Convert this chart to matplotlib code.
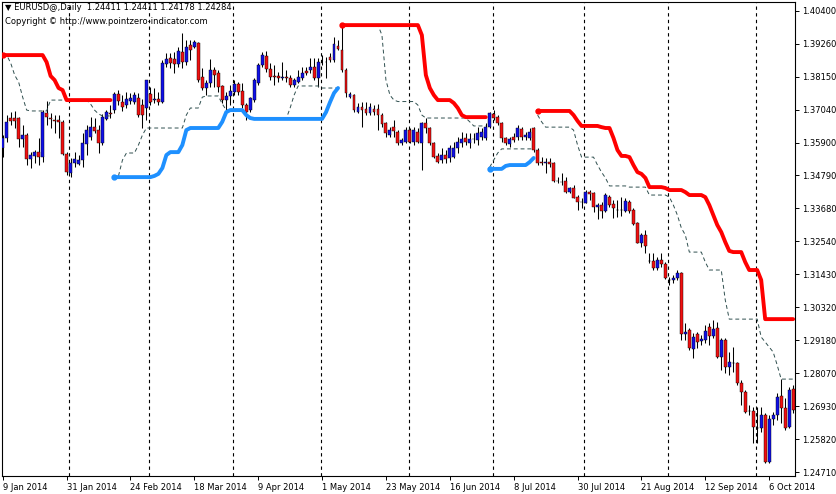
import matplotlib
matplotlib.use('Agg')
import matplotlib.pyplot as plt
import numpy as np
import pandas as pd

nan = float('nan')

# daily EURUSD candles, 9 Jan 2014 onwards (one value per trading day)
opens = [
    1.3572, 1.3606, 1.3674, 1.3674, 1.3674, 1.3603, 1.3617, 1.3535, 1.3547, 1.3558,
    1.3543, 1.3691, 1.3674, 1.3667, 1.3668, 1.3660, 1.3552, 1.3487, 1.3521, 1.3518,
    1.3532, 1.3587, 1.3611, 1.3643, 1.3634, 1.3589, 1.3671, 1.3692, 1.3702, 1.3756,
    1.3731, 1.3719, 1.3733, 1.3731, 1.3744, 1.3719, 1.3708, 1.3757, 1.3736, 1.3739,
    1.3731, 1.3859, 1.3879, 1.3876, 1.3859, 1.3901, 1.3866, 1.3923, 1.3918, 1.3929,
    1.3816, 1.3776, 1.3794, 1.3838, 1.3828, 1.3784, 1.3736, 1.3750, 1.3764, 1.3791,
    1.3767, 1.3719, 1.3702, 1.3736, 1.3793, 1.3855, 1.3886, 1.3842, 1.3818, 1.3818,
    1.3810, 1.3813, 1.3812, 1.3787, 1.3799, 1.3812, 1.3835, 1.3838, 1.3850, 1.3810,
    1.3867, 1.3866, 1.3884, 1.3872, 1.3921, 1.3906, 1.3838, 1.3748, 1.3753, 1.3696,
    1.3714, 1.3706, 1.3691, 1.3705, 1.3705, 1.3685, 1.3657, 1.3617, 1.3643, 1.3628,
    1.3589, 1.3594, 1.3634, 1.3594, 1.3628, 1.3589, 1.3657, 1.3640, 1.3589, 1.3546,
    1.3532, 1.3549, 1.3539, 1.3543, 1.3572, 1.3589, 1.3606, 1.3589, 1.3604, 1.3600,
    1.3611, 1.3606, 1.3646, 1.3689, 1.3680, 1.3657, 1.3606, 1.3587, 1.3611, 1.3611,
    1.3637, 1.3611, 1.3606, 1.3640, 1.3566, 1.3524, 1.3523, 1.3526, 1.3521, 1.3462,
    1.3459, 1.3461, 1.3424, 1.3436, 1.3407, 1.3391, 1.3387, 1.3424, 1.3419, 1.3371,
    1.3379, 1.3360, 1.3405, 1.3383, 1.3362, 1.3362, 1.3360, 1.3390, 1.3362, 1.3317,
    1.3251, 1.3277, 1.3190, 1.3190, 1.3164, 1.3192, 1.3178, 1.3125, 1.3124, 1.3131,
    1.3149, 1.2940, 1.2954, 1.2888, 1.2940, 1.2917, 1.2920, 1.2965, 1.2935, 1.2960,
    1.2861, 1.2920, 1.2829, 1.2843, 1.2843, 1.2775, 1.2744, 1.2679, 1.2679, 1.2621,
    1.2620, 1.2665, 1.2506, 1.2650, 1.2665, 1.2730, 1.2688, 1.2625, 1.2752,
]
highs = [
    1.3617, 1.3685, 1.3694, 1.3699, 1.3680, 1.3651, 1.3624, 1.3560, 1.3566, 1.3607,
    1.3702, 1.3733, 1.3691, 1.3685, 1.3685, 1.3668, 1.3560, 1.3538, 1.3560, 1.3549,
    1.3623, 1.3651, 1.3680, 1.3676, 1.3651, 1.3688, 1.3702, 1.3719, 1.3764, 1.3770,
    1.3753, 1.3764, 1.3760, 1.3764, 1.3759, 1.3740, 1.3804, 1.3782, 1.3777, 1.3764,
    1.3872, 1.3895, 1.3895, 1.3901, 1.3918, 1.3965, 1.3940, 1.3940, 1.3940, 1.3935,
    1.3844, 1.3804, 1.3875, 1.3850, 1.3838, 1.3787, 1.3764, 1.3787, 1.3804, 1.3799,
    1.3793, 1.3725, 1.3748, 1.3810, 1.3861, 1.3901, 1.3903, 1.3862, 1.3855, 1.3833,
    1.3866, 1.3838, 1.3821, 1.3810, 1.3838, 1.3850, 1.3850, 1.3878, 1.3878, 1.3878,
    1.3889, 1.3884, 1.3895, 1.3952, 1.3940, 1.3991, 1.3844, 1.3764, 1.3756, 1.3725,
    1.3731, 1.3728, 1.3725, 1.3719, 1.3722, 1.3691, 1.3662, 1.3646, 1.3668, 1.3634,
    1.3606, 1.3646, 1.3640, 1.3646, 1.3640, 1.3662, 1.3674, 1.3646, 1.3594, 1.3555,
    1.3572, 1.3566, 1.3583, 1.3594, 1.3610, 1.3628, 1.3623, 1.3623, 1.3623, 1.3643,
    1.3640, 1.3657, 1.3696, 1.3702, 1.3685, 1.3662, 1.3611, 1.3611, 1.3623, 1.3651,
    1.3646, 1.3628, 1.3640, 1.3646, 1.3572, 1.3543, 1.3538, 1.3538, 1.3526, 1.3475,
    1.3487, 1.3475, 1.3441, 1.3447, 1.3413, 1.3402, 1.3430, 1.3430, 1.3423, 1.3385,
    1.3390, 1.3419, 1.3413, 1.3396, 1.3396, 1.3407, 1.3402, 1.3396, 1.3368, 1.3321,
    1.3283, 1.3294, 1.3215, 1.3215, 1.3203, 1.3215, 1.3185, 1.3135, 1.3141, 1.3158,
    1.3152, 1.2977, 1.2960, 1.2943, 1.2948, 1.2937, 1.2971, 1.2977, 1.2988, 1.2981,
    1.2926, 1.2926, 1.2880, 1.2897, 1.2846, 1.2784, 1.2750, 1.2699, 1.2693, 1.2693,
    1.2693, 1.2671, 1.2665, 1.2676, 1.2739, 1.2786, 1.2723, 1.2761, 1.2767,
]
lows = [
    1.3543, 1.3594, 1.3651, 1.3641, 1.3577, 1.3577, 1.3515, 1.3504, 1.3522, 1.3515,
    1.3526, 1.3651, 1.3640, 1.3623, 1.3606, 1.3549, 1.3481, 1.3475, 1.3509, 1.3515,
    1.3509, 1.3549, 1.3600, 1.3623, 1.3557, 1.3583, 1.3668, 1.3674, 1.3691, 1.3719,
    1.3699, 1.3710, 1.3723, 1.3723, 1.3680, 1.3641, 1.3668, 1.3719, 1.3725, 1.3719,
    1.3725, 1.3850, 1.3844, 1.3827, 1.3850, 1.3844, 1.3855, 1.3874, 1.3912, 1.3799,
    1.3770, 1.3753, 1.3782, 1.3782, 1.3764, 1.3725, 1.3702, 1.3719, 1.3753, 1.3753,
    1.3708, 1.3668, 1.3696, 1.3731, 1.3787, 1.3850, 1.3832, 1.3804, 1.3787, 1.3799,
    1.3804, 1.3797, 1.3782, 1.3782, 1.3793, 1.3804, 1.3821, 1.3827, 1.3804, 1.3782,
    1.3855, 1.3810, 1.3866, 1.3866, 1.3906, 1.3833, 1.3748, 1.3742, 1.3696, 1.3691,
    1.3646, 1.3685, 1.3685, 1.3685, 1.3634, 1.3646, 1.3611, 1.3611, 1.3611, 1.3583,
    1.3583, 1.3589, 1.3589, 1.3583, 1.3589, 1.3498, 1.3623, 1.3583, 1.3538, 1.3521,
    1.3521, 1.3522, 1.3526, 1.3538, 1.3556, 1.3577, 1.3583, 1.3572, 1.3589, 1.3583,
    1.3600, 1.3600, 1.3640, 1.3668, 1.3651, 1.3594, 1.3583, 1.3577, 1.3594, 1.3600,
    1.3600, 1.3600, 1.3600, 1.3560, 1.3515, 1.3515, 1.3487, 1.3509, 1.3457, 1.3453,
    1.3447, 1.3419, 1.3419, 1.3402, 1.3362, 1.3368, 1.3385, 1.3396, 1.3356, 1.3330,
    1.3334, 1.3355, 1.3373, 1.3334, 1.3339, 1.3342, 1.3355, 1.3351, 1.3311, 1.3249,
    1.3237, 1.3215, 1.3181, 1.3158, 1.3158, 1.3169, 1.3127, 1.3107, 1.3113, 1.3124,
    1.2920, 1.2920, 1.2886, 1.2858, 1.2892, 1.2903, 1.2909, 1.2903, 1.2926, 1.2858,
    1.2818, 1.2807, 1.2801, 1.2811, 1.2767, 1.2699, 1.2671, 1.2665, 1.2569, 1.2569,
    1.2608, 1.2501, 1.2501, 1.2631, 1.2648, 1.2637, 1.2614, 1.2620, 1.2671,
]
closes = [
    1.3606, 1.3662, 1.3666, 1.3666, 1.3603, 1.3617, 1.3535, 1.3549, 1.3560, 1.3543,
    1.3694, 1.3678, 1.3671, 1.3665, 1.3660, 1.3552, 1.3492, 1.3521, 1.3536, 1.3533,
    1.3589, 1.3634, 1.3643, 1.3631, 1.3589, 1.3680, 1.3694, 1.3690, 1.3756, 1.3733,
    1.3714, 1.3740, 1.3742, 1.3753, 1.3685, 1.3684, 1.3804, 1.3731, 1.3738, 1.3731,
    1.3862, 1.3876, 1.3863, 1.3859, 1.3903, 1.3866, 1.3918, 1.3906, 1.3935, 1.3804,
    1.3776, 1.3794, 1.3838, 1.3821, 1.3782, 1.3736, 1.3750, 1.3768, 1.3791, 1.3764,
    1.3719, 1.3696, 1.3742, 1.3804, 1.3855, 1.3889, 1.3842, 1.3816, 1.3815, 1.3810,
    1.3816, 1.3812, 1.3787, 1.3804, 1.3816, 1.3829, 1.3827, 1.3850, 1.3810, 1.3866,
    1.3866, 1.3867, 1.3872, 1.3926, 1.3910, 1.3838, 1.3759, 1.3757, 1.3702, 1.3714,
    1.3702, 1.3693, 1.3714, 1.3696, 1.3685, 1.3654, 1.3623, 1.3634, 1.3632, 1.3589,
    1.3600, 1.3634, 1.3594, 1.3634, 1.3594, 1.3657, 1.3640, 1.3589, 1.3543, 1.3526,
    1.3549, 1.3536, 1.3572, 1.3572, 1.3593, 1.3603, 1.3594, 1.3603, 1.3603, 1.3624,
    1.3628, 1.3646, 1.3691, 1.3674, 1.3657, 1.3606, 1.3589, 1.3603, 1.3600, 1.3640,
    1.3611, 1.3617, 1.3628, 1.3566, 1.3521, 1.3523, 1.3524, 1.3518, 1.3462, 1.3461,
    1.3458, 1.3424, 1.3436, 1.3404, 1.3390, 1.3390, 1.3424, 1.3417, 1.3371, 1.3379,
    1.3360, 1.3413, 1.3379, 1.3368, 1.3361, 1.3363, 1.3394, 1.3360, 1.3313, 1.3251,
    1.3277, 1.3240, 1.3189, 1.3164, 1.3192, 1.3178, 1.3132, 1.3124, 1.3131, 1.3148,
    1.2939, 1.2947, 1.2892, 1.2931, 1.2914, 1.2923, 1.2952, 1.2935, 1.2957, 1.2861,
    1.2920, 1.2827, 1.2844, 1.2842, 1.2775, 1.2744, 1.2676, 1.2678, 1.2625, 1.2619,
    1.2665, 1.2506, 1.2650, 1.2665, 1.2727, 1.2688, 1.2620, 1.2750, 1.2682,
]

# trailing stop indicator (red = short stop, blue = long stop, dashed = mid level)
upper_stop = ([1.3889] * 11 + [1.3865, 1.3818, 1.3804, 1.3777, 1.3770] + [1.3736] * 12
              + [nan] * 57
              + [1.3991] * 20 + [1.3957, 1.3821, 1.3777, 1.3753] + [1.3736] * 4
              + [1.3726, 1.3709, 1.3685] + [1.3678] * 6
              + [nan] * 12
              + [1.3699] * 9 + [1.3685, 1.3665] + [1.3648] * 5
              + [1.3644, 1.3641, 1.3641, 1.3607, 1.3566, 1.3546, 1.3546, 1.3542,
                 1.3515, 1.3491, 1.3485, 1.3471]
              + [1.3440] * 4 + [1.3437] + [1.3430] * 4 + [1.3423] + [1.3413] * 4
              + [1.3406, 1.3379, 1.3345, 1.3311, 1.3287, 1.3253, 1.3223]
              + [1.3219] * 3 + [1.3185] + [1.3158] * 3 + [1.3124] + [1.2991] * 8)
lower_stop = ([nan] * 28
              + [1.3474] * 10 + [1.3478, 1.3485, 1.3505, 1.3549] + [1.3559] * 3
              + [1.3583, 1.3634] + [1.3641] * 8 + [1.3662, 1.3695] + [1.3702] * 4
              + [1.3685, 1.3675] + [1.3672] * 18 + [1.3695, 1.3729, 1.3760, 1.3777]
              + [nan] * 37
              + [1.3502] * 4 + [1.3512] + [1.3515] * 5 + [1.3525, 1.3539]
              + [nan] * 65)
mid_line = ([1.3889] * 2 + [1.3862, 1.3821, 1.3797, 1.3746, 1.3702] + [1.3699] * 5
            + [1.3736] * 10 + [1.3723, 1.3702, 1.3689] + [1.3682] * 3
            + [nan]
            + [1.3478, 1.3532] + [1.3556] * 3 + [1.3583, 1.3617] + [1.3641] * 10
            + [1.3685] + [1.3709] * 3 + [1.3746] + [1.3750] * 4 + [1.3723]
            + [1.3702] * 5 + [1.3685] + [1.3672] * 10 + [1.3709, 1.3753]
            + [1.3784] * 6 + [1.3777] * 5
            + [1.3991] * 10 + [1.3957, 1.3804, 1.3753, 1.3736] + [1.3731] * 5
            + [1.3719, 1.3685] + [1.3675] * 11 + [1.3662] + [1.3648] * 4
            + [1.3508, 1.3532, 1.3556] + [1.3570] * 9
            + [1.3685, 1.3662] + [1.3644] * 7 + [1.3634, 1.3583] + [1.3542] * 4
            + [1.3515, 1.3491, 1.3471] + [1.3444] * 5 + [1.3440] * 5 + [1.3413] * 5
            + [1.3406, 1.3379, 1.3345, 1.3301, 1.3277] + [1.3219] * 4 + [1.3185]
            + [1.3158] * 4 + [1.3056] + [1.2991] * 8
            + [1.2930, 1.2913, 1.2896, 1.2879, 1.2835] + [1.2787] * 4)

y_labels = ['1.24710', '1.25820', '1.26930', '1.28070', '1.29180', '1.30320',
            '1.31430', '1.32540', '1.33680', '1.34790', '1.35900', '1.37040',
            '1.38150', '1.39260', '1.40400']
header = '\u25bc EURUSD@,Daily  1.24411 1.24411 1.24178 1.24284'
copyright_text = 'Copyright \u00a9 http://www.pointzero-indicator.com'

o = np.array(opens)
h = np.array(highs)
l = np.array(lows)
c = np.array(closes)
up = np.array(upper_stop)
dn = np.array(lower_stop)
mid = np.array(mid_line)
x = np.arange(len(c))
dates = pd.bdate_range('2014-01-09', periods=len(c))

plt.rcParams['font.family'] = 'DejaVu Sans'
fig = plt.figure(figsize=(8.37, 4.94), dpi=100)
ax = fig.add_axes([1.7 / 837, 18 / 494, 793.3 / 837, 474 / 494])

# month separators
month_starts = np.where(np.diff(dates.month) != 0)[0] + 1
for m in month_starts:
    ax.axvline(m - 0.3, color='black', lw=0.8, linestyle=(0, (3, 3)), zorder=1)

# candles
body_col = np.where(c > o, '#1010e8', '#f01010')
body_col = np.where(np.abs(c - o) < 0.00006, 'black', body_col)
ax.vlines(x, l, h, color='black', lw=0.75, zorder=2)
ax.bar(x, np.maximum(np.abs(c - o), 0.00003), bottom=np.minimum(o, c), width=0.72,
       color=body_col, edgecolor='black', linewidth=0.3, zorder=3)

# indicator
ax.plot(x, np.where(np.isnan(up), nan, mid), color='#2f4f4f', lw=0.7,
        linestyle=(0, (4, 3)), zorder=4)
ax.plot(x, np.where(np.isnan(dn), nan, mid), color='#2f4f4f', lw=0.7,
        linestyle=(0, (4, 3)), zorder=4)
ax.plot(x, up, color='#ff0000', lw=2.8, solid_capstyle='round', zorder=5)
ax.plot(x, dn, color='#1e90ff', lw=2.8, solid_capstyle='round', zorder=5)
for line, col in [(up, '#ff0000'), (dn, '#1e90ff')]:
    ok = ~np.isnan(line)
    starts = np.where(ok & ~np.r_[False, ok[:-1]])[0]
    ax.plot(starts, line[starts], 'o', color=col, ms=3.5, zorder=5)

ax.set_xlim(-0.25, 198.47)
ax.set_ylim(1.24574, 1.40696)

ax.yaxis.tick_right()
ax.set_yticks(np.linspace(1.2471, 1.404, 15))
ax.set_yticklabels(y_labels)
ax.set_xticks(x[::16])
ax.set_xticklabels([f'{d.day} {d.strftime("%b %Y")}' for d in dates[::16]])
for lbl in ax.get_xticklabels():
    lbl.set_ha('left')
ax.tick_params(axis='both', labelsize=6, length=3, width=0.7, color='black',
               direction='out')
ax.tick_params(axis='x', pad=2)
ax.tick_params(axis='y', pad=2)
for s in ax.spines.values():
    s.set_color('black')
    s.set_linewidth(0.8)

fig.text(5 / 837, 1 - 8 / 494, header, fontsize=6, va='center', ha='left')
fig.text(5 / 837, 1 - 21 / 494, copyright_text, fontsize=6, va='center', ha='left')

fig.savefig('out.png', dpi=100)
